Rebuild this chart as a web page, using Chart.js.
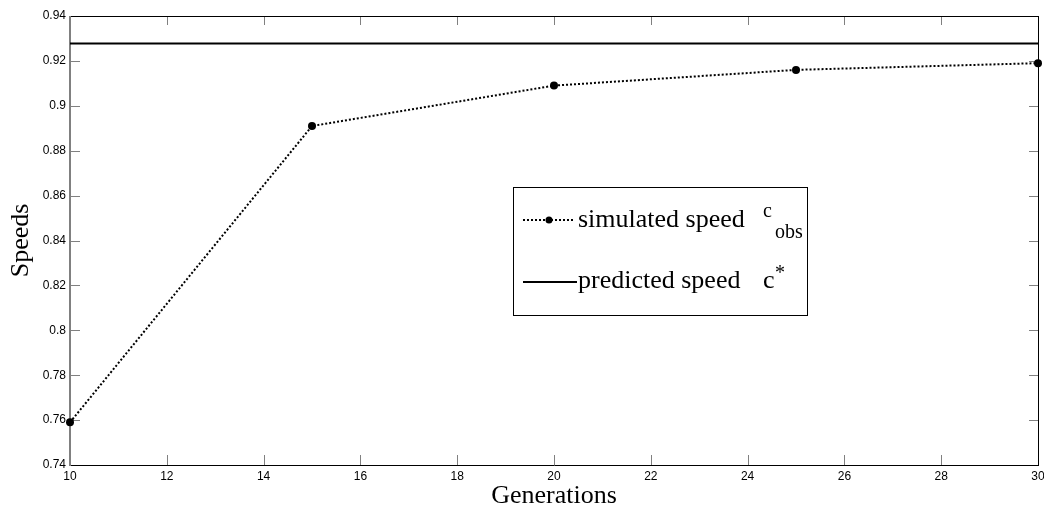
<!DOCTYPE html>
<html>
<head>
<meta charset="utf-8">
<script src="https://cdn.jsdelivr.net/npm/chart.js@4"></script>
<style>
  html, body { margin: 0; padding: 0; background: #fff; }
  #wrap { width: 1044px; height: 512px; }
</style>
</head>
<body>
<div id="wrap"><canvas id="c" width="1044" height="512"></canvas></div>
<script>
// ---- data ----
const generations = [10, 15, 20, 25, 30];
const simulatedSpeed = [0.759, 0.891, 0.909, 0.916, 0.919];
const predictedSpeed = 0.9277;
const xTicks = [10, 12, 14, 16, 18, 20, 22, 24, 26, 28, 30];
const yTicks = [0.74, 0.76, 0.78, 0.8, 0.82, 0.84, 0.86, 0.88, 0.9, 0.92, 0.94];
const yTickLabels = ['0.74', '0.76', '0.78', '0.8', '0.82', '0.84', '0.86', '0.88', '0.9', '0.92', '0.94'];
const xTitle = 'Generations';
const yTitle = 'Speeds';
const legendLabels = ['simulated speed', 'predicted speed'];
const legendSymbols = [{ base: 'c', sub: 'obs' }, { base: 'c', sup: '*' }];

const SERIF = '"Liberation Serif", "DejaVu Serif", serif';
const SANS = '"Liberation Sans", Arial, sans-serif';

const framePlugin = {
  id: 'frame',
  beforeDatasetsDraw(chart) {
    const { ctx, chartArea: { left, right, top, bottom }, scales: { x, y } } = chart;
    ctx.save();
    ctx.strokeStyle = '#808080';
    ctx.lineWidth = 1;
    ctx.beginPath();
    xTicks.forEach(v => {
      const px = Math.round(x.getPixelForValue(v)) + 0.5;
      ctx.moveTo(px, bottom); ctx.lineTo(px, bottom - 10);
      ctx.moveTo(px, top); ctx.lineTo(px, top + 9);
    });
    yTicks.forEach(v => {
      const py = Math.round(y.getPixelForValue(v)) + 0.5;
      ctx.moveTo(left, py); ctx.lineTo(left + 10, py);
      ctx.moveTo(right, py); ctx.lineTo(right - 9, py);
    });
    ctx.stroke();
    // borders
    ctx.strokeStyle = '#000';
    ctx.lineWidth = 1;
    ctx.beginPath();
    ctx.moveTo(left, Math.round(top) + 0.5); ctx.lineTo(right, Math.round(top) + 0.5);
    ctx.moveTo(Math.round(right) + 0.5, top); ctx.lineTo(Math.round(right) + 0.5, bottom);
    ctx.moveTo(left, Math.round(bottom) + 0.5); ctx.lineTo(right + 1, Math.round(bottom) + 0.5);
    ctx.stroke();
    ctx.strokeStyle = '#808080';
    ctx.lineWidth = 2;
    ctx.beginPath();
    ctx.moveTo(Math.round(left), top); ctx.lineTo(Math.round(left), bottom + 1);
    ctx.stroke();
    ctx.restore();
  }
};

const legendPlugin = {
  id: 'mlegend',
  afterDraw(chart) {
    const { ctx } = chart;
    ctx.save();
    // box
    ctx.fillStyle = '#fff';
    ctx.fillRect(513, 187, 294, 128);
    ctx.strokeStyle = '#000';
    ctx.lineWidth = 1;
    ctx.strokeRect(513.5, 187.5, 294, 128);

    // entry 1: dotted line + marker
    ctx.strokeStyle = '#000';
    ctx.lineWidth = 2;
    ctx.setLineDash([2, 2]);
    ctx.beginPath();
    ctx.moveTo(523, 220); ctx.lineTo(575, 220);
    ctx.stroke();
    ctx.setLineDash([]);
    ctx.fillStyle = '#000';
    ctx.beginPath();
    ctx.arc(549, 220, 3.5, 0, Math.PI * 2);
    ctx.fill();

    ctx.textBaseline = 'alphabetic';
    ctx.textAlign = 'left';
    ctx.font = '26px ' + SERIF;
    ctx.fillText(legendLabels[0], 578, 227);
    ctx.font = '20px ' + SERIF;
    ctx.fillText(legendSymbols[0].base, 763, 217);
    ctx.fillText(legendSymbols[0].sub, 775, 238);

    // entry 2: solid line
    ctx.lineWidth = 2;
    ctx.beginPath();
    ctx.moveTo(523, 282); ctx.lineTo(577, 282);
    ctx.stroke();
    ctx.font = '26px ' + SERIF;
    ctx.fillText(legendLabels[1], 578, 288);
    ctx.fillText(legendSymbols[1].base, 763, 288);
    ctx.font = '20px ' + SERIF;
    ctx.fillText(legendSymbols[1].sup, 775, 279);
    ctx.restore();
  }
};

new Chart(document.getElementById('c'), {
  type: 'line',
  data: {
    datasets: [
      {
        label: legendLabels[0],
        data: generations.map((g, i) => ({ x: g, y: simulatedSpeed[i] })),
        borderColor: '#000',
        backgroundColor: '#000',
        borderWidth: 2,
        borderDash: [2, 2],
        pointRadius: 4,
        pointHoverRadius: 4,
        pointBackgroundColor: '#000',
        pointBorderWidth: 0,
        tension: 0,
        clip: false
      },
      {
        label: legendLabels[1],
        data: [{ x: generations[0], y: predictedSpeed }, { x: generations[generations.length - 1], y: predictedSpeed }],
        borderColor: '#000',
        borderWidth: 2,
        pointRadius: 0,
        tension: 0,
        clip: false
      }
    ]
  },
  options: {
    responsive: false,
    animation: false,
    devicePixelRatio: 1,
    layout: { padding: { top: 16, right: 0, left: 0, bottom: 0 } },
    plugins: {
      legend: { display: false },
      tooltip: { enabled: false },
      title: { display: false }
    },
    scales: {
      x: {
        type: 'linear',
        min: 10,
        max: 30,
        afterBuildTicks: s => { s.ticks = xTicks.map(v => ({ value: v })); },
        afterFit: s => { s.height = 47; s.paddingRight = 6; s.paddingLeft = 0; },
        ticks: {
          autoSkip: false, maxRotation: 0, padding: 4,
          color: '#000',
          font: { family: SANS, size: 12 },
          callback: v => String(v)
        },
        grid: { display: false, drawTicks: false },
        border: { display: false },
        title: {
          display: true, text: xTitle, color: '#000',
          font: { family: SERIF, size: 26 },
          padding: { top: 0, bottom: 0 }
        }
      },
      y: {
        type: 'linear',
        min: 0.74,
        max: 0.94,
        afterBuildTicks: s => { s.ticks = yTicks.map(v => ({ value: v })); },
        afterFit: s => { s.width = 70; s.paddingTop = 0; s.paddingBottom = 0; },
        ticks: {
          autoSkip: false, padding: 4,
          color: '#000',
          font: { family: SANS, size: 12 },
          callback: (v) => {
            const i = yTicks.findIndex(t => Math.abs(t - v) < 1e-9);
            return i >= 0 ? yTickLabels[i] : '';
          }
        },
        grid: { display: false, drawTicks: false },
        border: { display: false },
        title: {
          display: true, text: yTitle, color: '#000',
          font: { family: SERIF, size: 26 },
          padding: { top: 6, bottom: 0 }
        }
      }
    }
  },
  plugins: [framePlugin, legendPlugin]
});
</script>
</body>
</html>
